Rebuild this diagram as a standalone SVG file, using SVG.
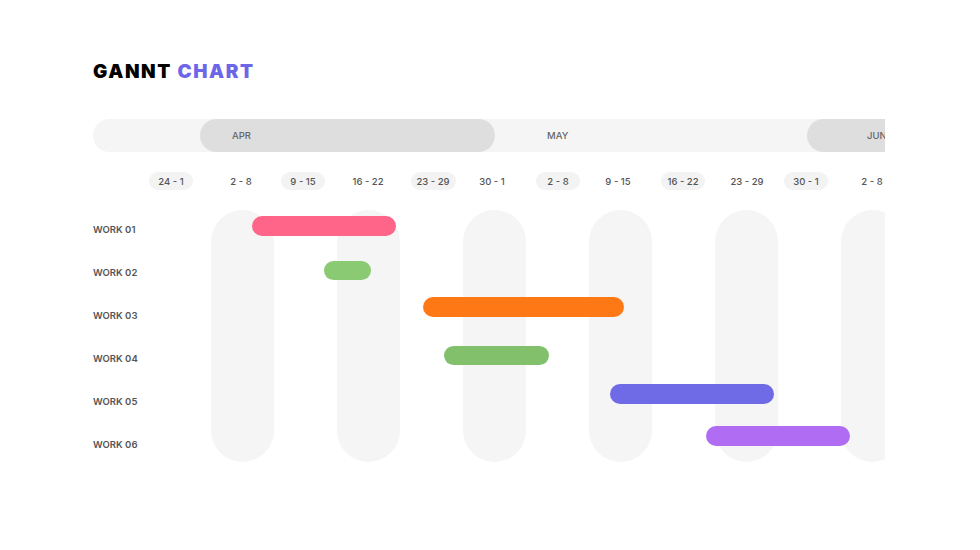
<svg xmlns="http://www.w3.org/2000/svg" width="980" height="550" viewBox="0 0 980 550">
<defs>
<clipPath id="area"><rect x="90" y="100" width="795" height="380"/></clipPath>
<style>
.t{font-family:Inter,"Open Sans","Liberation Sans",sans-serif}
.mon{font-size:9.5px;font-weight:500;fill:#666}
.wk{font-size:9.5px;font-weight:500;fill:#555;text-anchor:middle}
.row{font-size:9.5px;font-weight:600;fill:#555}
.pill{fill:#f3f3f3}
.col{fill:#f5f5f5}
</style>
</defs>
<rect width="980" height="550" fill="#ffffff"/>
<text id="title" class="t" x="93" y="78" font-size="19" font-weight="900" letter-spacing="1.6"><tspan fill="#000">GANNT </tspan><tspan fill="#6e66e8">CHART</tspan></text>
<g clip-path="url(#area)">
<g id="months">
<rect x="93" y="119" width="830" height="33" rx="16.5" fill="#f5f5f5"/>
<rect x="200" y="119" width="295" height="33" rx="16.5" fill="#dedede"/>
<rect x="807" y="119" width="200" height="33" rx="16.5" fill="#dedede"/>
<text class="t mon" x="232" y="139">APR</text>
<text class="t mon" x="547" y="139">MAY</text>
<text class="t mon" x="867" y="139">JUN</text>
</g>
<g id="weeks">
<rect class="pill" x="149" y="172" width="44" height="18" rx="9"/>
<rect class="pill" x="281" y="172" width="44" height="18" rx="9"/>
<rect class="pill" x="411" y="172" width="45" height="18" rx="9"/>
<rect class="pill" x="536" y="172" width="44" height="18" rx="9"/>
<rect class="pill" x="661" y="172" width="44" height="18" rx="9"/>
<rect class="pill" x="784" y="172" width="44" height="18" rx="9"/>
<text class="t wk" x="171" y="185">24 - 1</text>
<text class="t wk" x="241" y="185">2 - 8</text>
<text class="t wk" x="303" y="185">9 - 15</text>
<text class="t wk" x="368" y="185">16 - 22</text>
<text class="t wk" x="433" y="185">23 - 29</text>
<text class="t wk" x="492" y="185">30 - 1</text>
<text class="t wk" x="558" y="185">2 - 8</text>
<text class="t wk" x="618" y="185">9 - 15</text>
<text class="t wk" x="683" y="185">16 - 22</text>
<text class="t wk" x="747" y="185">23 - 29</text>
<text class="t wk" x="806" y="185">30 - 1</text>
<text class="t wk" x="872" y="185">2 - 8</text>
</g>
<g id="columns">
<rect class="col" x="211" y="210" width="63" height="252" rx="31.5"/>
<rect class="col" x="337" y="210" width="63" height="252" rx="31.5"/>
<rect class="col" x="463" y="210" width="63" height="252" rx="31.5"/>
<rect class="col" x="589" y="210" width="63" height="252" rx="31.5"/>
<rect class="col" x="715" y="210" width="63" height="252" rx="31.5"/>
<rect class="col" x="841" y="210" width="63" height="252" rx="31.5"/>
</g>
</g>
<g id="labels">
<text class="t row" x="93" y="233">WORK 01</text>
<text class="t row" x="93" y="276">WORK 02</text>
<text class="t row" x="93" y="319">WORK 03</text>
<text class="t row" x="93" y="362">WORK 04</text>
<text class="t row" x="93" y="405">WORK 05</text>
<text class="t row" x="93" y="448">WORK 06</text>
</g>
<g id="work01"><rect x="252" y="216" width="144" height="20" rx="10" fill="#ff6489"/></g>
<g id="work02"><rect x="324" y="261" width="47" height="19" rx="9.5" fill="#8aca72"/></g>
<g id="work03"><rect x="423" y="297" width="201" height="20" rx="10" fill="#ff7816"/></g>
<g id="work04"><rect x="444" y="346" width="105" height="19" rx="9.5" fill="#82c06c"/></g>
<g id="work05"><rect x="610" y="384" width="164" height="20" rx="10" fill="#6f6ae6"/></g>
<g id="work06"><rect x="706" y="426" width="144" height="20" rx="10" fill="#b06cf2"/></g>
<g id="connectors"/>
</svg>
